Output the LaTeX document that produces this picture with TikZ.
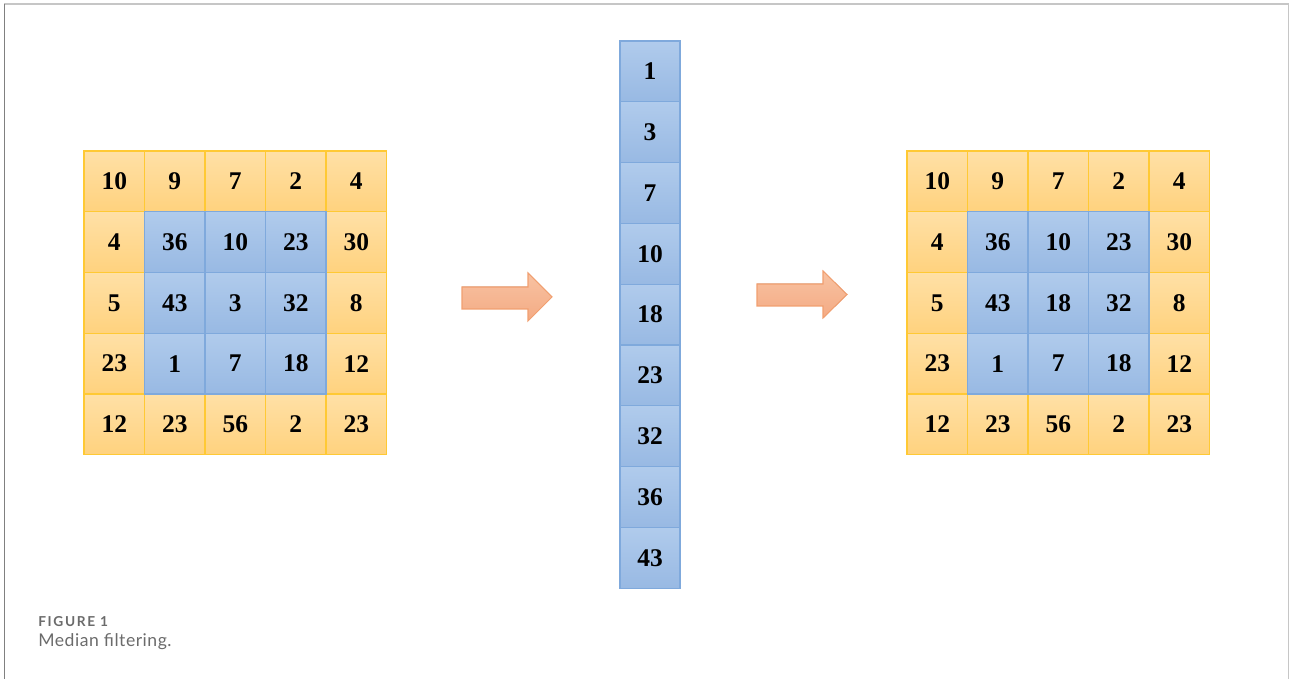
\documentclass[tikz,border=0pt]{standalone}
\usepackage{fontspec}
\setmainfont{Liberation Serif}
\newfontfamily\capfont{Lato}[LetterSpace=3]
\newfontfamily\capfontwide{Lato}[LetterSpace=12]
\usetikzlibrary{positioning}

\definecolor{outtop}{HTML}{FFE0A6}
\definecolor{outbot}{HTML}{FFD27E}
\definecolor{outline}{HTML}{FFC934}
\definecolor{intop}{HTML}{B0CBEC}
\definecolor{inbot}{HTML}{98B9E3}
\definecolor{inline}{HTML}{7FA9DC}
\definecolor{arrtop}{HTML}{F8C2A2}
\definecolor{arrbot}{HTML}{F4AB84}
\definecolor{arrline}{HTML}{F19F70}
\definecolor{capgray}{HTML}{6B6B6B}

\tikzset{
  outcell/.style={draw=outline, top color=outtop, bottom color=outbot, line width=0.6pt,
    minimum width=1.21cm, minimum height=1.215cm, inner sep=0pt,
    font={\fontsize{14.5}{16}\selectfont\bfseries}},
  incell/.style={outcell, draw=inline, top color=intop, bottom color=inbot},
  blockarrow/.style={draw=arrline, top color=arrtop, bottom color=arrbot, line width=0.6pt}
}

\begin{document}
\begin{tikzpicture}
        \useasboundingbox (0,0) rectangle (25.8,-13.58);
        % frame
        \draw[color=gray!45, line width=0.9pt] (0.09,-0.08) -- (25.77,-0.08) -- (25.77,-13.58);
        \draw[color=gray, line width=0.9pt] (0.09,-0.08) -- (0.09,-13.58);

        % input window
        \begin{scope}[shift={(1.68,-3.02)}, x=1.21cm, y=1.215cm]
        \node[outcell] (l11) at (0.5, -0.5) {10};
        \node[outcell] (l12) at (1.5, -0.5) {9};
        \node[outcell] (l13) at (2.5, -0.5) {7};
        \node[outcell] (l14) at (3.5, -0.5) {2};
        \node[outcell] (l15) at (4.5, -0.5) {4};
        \node[outcell] (l21) at (0.5, -1.5) {4};
        \node[outcell] (l25) at (4.5, -1.5) {30};
        \node[outcell] (l31) at (0.5, -2.5) {5};
        \node[outcell] (l35) at (4.5, -2.5) {8};
        \node[outcell] (l41) at (0.5, -3.5) {23};
        \node[outcell] (l45) at (4.5, -3.5) {12};
        \node[outcell] (l51) at (0.5, -4.5) {12};
        \node[outcell] (l52) at (1.5, -4.5) {23};
        \node[outcell] (l53) at (2.5, -4.5) {56};
        \node[outcell] (l54) at (3.5, -4.5) {2};
        \node[outcell] (l55) at (4.5, -4.5) {23};
        \node[incell] (l22) at (1.5, -1.5) {36};
        \node[incell] (l23) at (2.5, -1.5) {10};
        \node[incell] (l24) at (3.5, -1.5) {23};
        \node[incell] (l32) at (1.5, -2.5) {43};
        \node[incell] (l33) at (2.5, -2.5) {3};
        \node[incell] (l34) at (3.5, -2.5) {32};
        \node[incell] (l42) at (1.5, -3.5) {1};
        \node[incell] (l43) at (2.5, -3.5) {7};
        \node[incell] (l44) at (3.5, -3.5) {18};
        \end{scope}

        \filldraw[blockarrow] (9.24,-5.74) -- (10.56,-5.74) -- (10.56,-5.46) -- (11.04,-5.94)
            -- (10.56,-6.42) -- (10.56,-6.18) -- (9.24,-6.18) -- cycle;

        % sorted values
        \begin{scope}[shift={(12.4,-0.82)}, x=1.2cm, y=1.216cm]
        \node[incell, minimum width=1.2cm] (s1) at (0.5, -0.5) {1};
        \node[incell, minimum width=1.2cm] (s2) at (0.5, -1.5) {3};
        \node[incell, minimum width=1.2cm] (s3) at (0.5, -2.5) {7};
        \node[incell, minimum width=1.2cm] (s4) at (0.5, -3.5) {10};
        \node[incell, minimum width=1.2cm] (s5) at (0.5, -4.5) {18};
        \node[incell, minimum width=1.2cm] (s6) at (0.5, -5.5) {23};
        \node[incell, minimum width=1.2cm] (s7) at (0.5, -6.5) {32};
        \node[incell, minimum width=1.2cm] (s8) at (0.5, -7.5) {36};
        \node[incell, minimum width=1.2cm] (s9) at (0.5, -8.5) {43};
        \end{scope}

        \filldraw[blockarrow] (15.14,-5.68) -- (16.46,-5.68) -- (16.46,-5.42) -- (16.94,-5.89)
            -- (16.46,-6.36) -- (16.46,-6.12) -- (15.14,-6.12) -- cycle;

        % output window
        \begin{scope}[shift={(18.14,-3.02)}, x=1.21cm, y=1.215cm]
        \node[outcell] (r11) at (0.5, -0.5) {10};
        \node[outcell] (r12) at (1.5, -0.5) {9};
        \node[outcell] (r13) at (2.5, -0.5) {7};
        \node[outcell] (r14) at (3.5, -0.5) {2};
        \node[outcell] (r15) at (4.5, -0.5) {4};
        \node[outcell] (r21) at (0.5, -1.5) {4};
        \node[outcell] (r25) at (4.5, -1.5) {30};
        \node[outcell] (r31) at (0.5, -2.5) {5};
        \node[outcell] (r35) at (4.5, -2.5) {8};
        \node[outcell] (r41) at (0.5, -3.5) {23};
        \node[outcell] (r45) at (4.5, -3.5) {12};
        \node[outcell] (r51) at (0.5, -4.5) {12};
        \node[outcell] (r52) at (1.5, -4.5) {23};
        \node[outcell] (r53) at (2.5, -4.5) {56};
        \node[outcell] (r54) at (3.5, -4.5) {2};
        \node[outcell] (r55) at (4.5, -4.5) {23};
        \node[incell] (r22) at (1.5, -1.5) {36};
        \node[incell] (r23) at (2.5, -1.5) {10};
        \node[incell] (r24) at (3.5, -1.5) {23};
        \node[incell] (r32) at (1.5, -2.5) {43};
        \node[incell] (r33) at (2.5, -2.5) {18};
        \node[incell] (r34) at (3.5, -2.5) {32};
        \node[incell] (r42) at (1.5, -3.5) {1};
        \node[incell] (r43) at (2.5, -3.5) {7};
        \node[incell] (r44) at (3.5, -3.5) {18};
        \end{scope}

        % caption
        \node[anchor=base west, inner sep=0pt, text=capgray, font={\capfontwide\bfseries\fontsize{7.8}{9}\selectfont}] (figno) at (0.76,-12.53) {FIGURE 1};
        \node[anchor=base west, inner sep=0pt, text=capgray, font={\capfont\fontsize{10}{12}\selectfont}] (figcap) at (0.76,-12.94) {Median filtering.};
    \end{tikzpicture}
\end{document}
